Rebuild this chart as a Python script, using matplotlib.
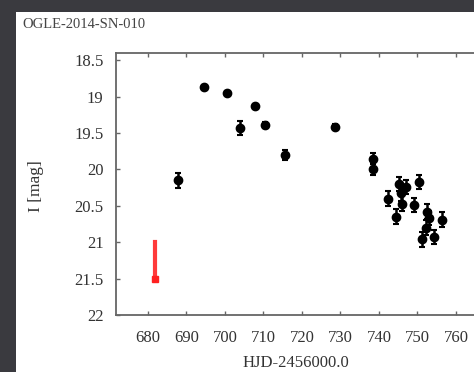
import numpy as np
import matplotlib.pyplot as plt
from matplotlib.patches import Rectangle

# OGLE-2014-SN-010 I-band light curve
hjd = [687.9, 694.5, 700.5, 707.7, 703.8, 710.5, 715.6, 728.5, 738.5, 738.5,
       742.3, 745.1, 745.7, 747.0, 746.1, 744.4, 749.2, 750.3, 752.6, 753.1,
       751.3, 754.4, 756.3, 752.1]
mag = [20.15, 18.87, 18.95, 19.13, 19.43, 19.39, 19.80, 19.41, 19.85, 20.00,
       20.40, 20.20, 20.33, 20.24, 20.47, 20.65, 20.49, 20.17, 20.58, 20.67,
       20.96, 20.93, 20.69, 20.80]
err = [0.10, 0.03, 0.03, 0.03, 0.10, 0.04, 0.07, 0.04, 0.08, 0.08,
       0.10, 0.10, 0.10, 0.10, 0.10, 0.10, 0.10, 0.10, 0.10, 0.10,
       0.10, 0.10, 0.10, 0.10]

# upper limit before discovery
limit_x = 681.8
limit_top = 21.0
limit_bottom = 21.5

yticks = [18.5, 19, 19.5, 20, 20.5, 21, 21.5, 22]
ytick_labels = ["18.5", "19", "19.5", "20", "20.5", "21", "21.5", "22"]
xticks = [680, 690, 700, 710, 720, 730, 740, 750, 760]

plt.rcParams['font.family'] = ['Liberation Serif', 'DejaVu Serif']

W, H = 474, 372
fig = plt.figure(figsize=(W / 100, H / 100), dpi=100)
fig.patch.set_facecolor('#3a3a3f')
fig.patches.append(Rectangle((16 / W, 0), 1, (H - 12) / H, transform=fig.transFigure,
                             facecolor='white', edgecolor='none', zorder=-1))

x0, x1 = 671.7, 770.0
left = 116 / W
bottom = 1 - 315 / H
top = 1 - 53 / H
px_per_day = 308 / 80
width = (x1 - x0) * px_per_day / W
ax = fig.add_axes([left, bottom, width, top - bottom])
ax.set_facecolor('none')
ax.set_zorder(1)

ax.errorbar(hjd, mag, yerr=err, fmt='o', color='black', ms=6, elinewidth=1.8,
            capsize=2.2, capthick=1.5, zorder=3)
ax.plot([limit_x, limit_x], [limit_top, limit_bottom], color='#ff3a3a', lw=3, zorder=3)
ax.plot([limit_x], [limit_bottom], 's', color='#ff2020', ms=4, zorder=3)

ax.set_xlim(x0, x1)
ax.set_ylim(22, 18.4)
ax.set_xticks(xticks)
ax.set_yticks(yticks)
ax.set_yticklabels(ytick_labels)
ax.tick_params(direction='in', length=3, width=1, color='#666666', top=True, right=True,
               labelsize=12, labelcolor='#333333')
ax.tick_params(axis='x', pad=11)
ax.tick_params(axis='y', pad=9)
for s in ax.spines.values():
    s.set_color('#666666')
    s.set_linewidth(1.3)

fig.text(22 / W, 1 - 24 / H, 'OGLE-2014-SN-010', fontsize=10.5, color='#444444',
         ha='left', va='center')
fig.text(296 / W, 1 - 363 / H, 'HJD-2456000.0', fontsize=12, color='#333333',
         ha='center', va='center')
fig.text(36 / W, 1 - 186 / H, 'I [mag]', fontsize=12.5, color='#333333',
         ha='center', va='center', rotation=90)

fig.savefig('out.png', dpi=100, facecolor=fig.get_facecolor())
